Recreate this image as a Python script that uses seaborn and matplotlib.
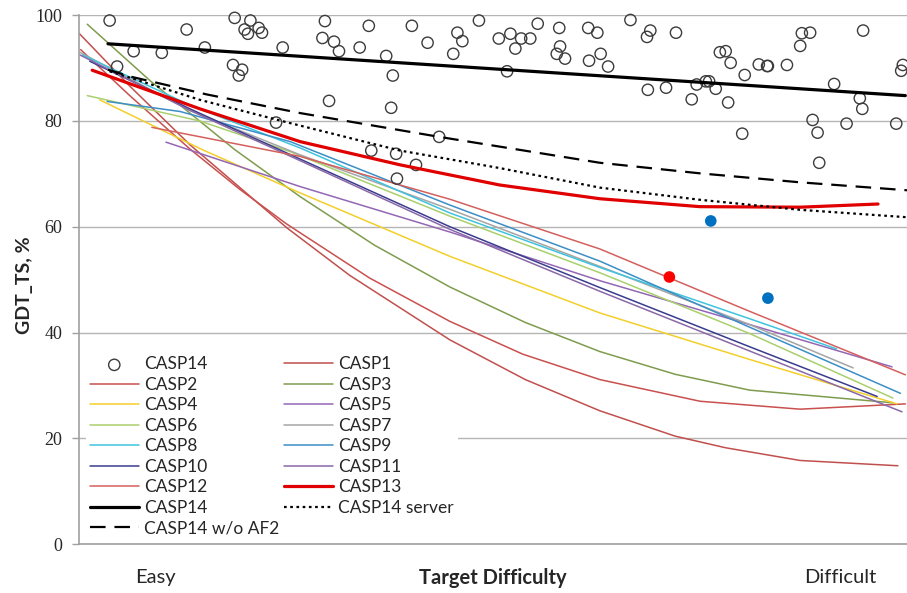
import matplotlib
matplotlib.use("Agg")
import matplotlib.pyplot as plt
import seaborn as sns
import numpy as np

# CASP14 domains: difficulty position (0 = easy, 100 = difficult) and GDT_TS
casp14_x = [3.7, 4.6, 6.6, 10.0, 13.0, 15.2, 18.8, 20.7, 20.0, 20.4, 21.7, 22.1, 24.6, 18.6, 19.7,
            19.3, 23.8, 29.7, 35.0, 40.2, 48.3, 29.4, 30.8, 31.4, 33.9, 37.1, 42.1, 45.7, 46.3, 45.2,
            50.7, 37.9, 30.2, 37.7, 43.5, 35.3, 38.3, 40.7, 38.4, 52.1, 53.4, 54.5, 52.7, 55.4, 58.0,
            58.1, 57.7, 58.7, 61.5, 62.6, 63.0, 61.6, 63.9, 51.7, 66.6, 69.0, 68.6, 72.1, 68.7, 70.9,
            74.0, 74.6, 75.7, 76.1, 76.9, 78.4, 77.4, 78.1, 78.7, 80.4, 80.1, 82.1, 83.1, 83.2, 85.5,
            87.1, 87.3, 88.3, 88.6, 89.2, 89.4, 91.2, 92.7, 94.3, 94.6, 94.7, 98.7, 99.3, 99.5]
casp14_y = [99.0, 90.3, 93.2, 92.9, 97.3, 93.9, 99.5, 99.0, 97.3, 96.5, 97.6, 96.7, 93.9, 90.6, 89.7,
            88.6, 79.7, 98.9, 98.0, 98.0, 99.0, 95.7, 95.0, 93.2, 93.9, 92.3, 94.8, 96.7, 95.1, 92.7,
            95.6, 88.6, 83.8, 82.5, 77.0, 74.4, 73.8, 71.7, 69.1, 96.5, 95.6, 95.6, 93.7, 98.4, 97.6,
            94.1, 92.7, 91.8, 97.6, 96.7, 92.7, 91.4, 90.3, 89.4, 99.1, 97.1, 95.9, 96.7, 85.9, 86.3,
            84.1, 86.9, 87.5, 87.5, 86.1, 83.5, 93.0, 93.2, 91.0, 88.7, 77.6, 90.7, 90.4, 90.4, 90.6,
            94.2, 96.6, 96.7, 80.2, 77.8, 72.1, 87.0, 79.5, 84.3, 82.3, 97.1, 79.5, 89.5, 90.6]

# highlighted targets
red_x, red_y = [71.3], [50.5]
blue_x, blue_y = [76.3, 83.2], [61.1, 46.5]

# trend curves
casp1_x = [0.0, 6.2, 13.4, 25.1, 32.7, 44.8, 53.9, 62.9, 72.0, 78.1, 87.1, 98.9]
casp1_y = [96.6, 86.5, 75.5, 59.8, 50.8, 38.6, 31.1, 25.2, 20.4, 18.2, 15.8, 14.8]
casp2_x = [0.2, 6.2, 13.4, 19.4, 25.1, 35.1, 44.8, 53.6, 62.9, 75.0, 87.1, 99.8]
casp2_y = [93.5, 84.7, 74.7, 67.1, 60.5, 50.3, 42.1, 35.9, 31.1, 27.0, 25.5, 26.5]
casp3_x = [1.0, 8.6, 18.8, 26.7, 35.7, 44.8, 53.9, 62.9, 72.0, 81.0, 98.3]
casp3_y = [98.3, 87.6, 74.6, 65.7, 56.5, 48.6, 41.9, 36.4, 32.1, 29.1, 26.7]
casp4_x = [2.5, 15.0, 26.7, 44.8, 62.9, 81.0, 98.8]
casp4_y = [84.0, 74.5, 66.4, 54.4, 43.7, 34.9, 26.5]
casp5_x = [10.5, 26.7, 44.8, 62.9, 81.0, 98.2]
casp5_y = [76.0, 67.6, 59.0, 49.8, 41.5, 33.5]
casp6_x = [1.0, 14.6, 25.5, 44.8, 62.9, 81.0, 98.3]
casp6_y = [84.8, 80.0, 74.2, 62.0, 51.3, 39.8, 27.6]
casp7_x = [0.1, 13.4, 26.7, 44.8, 62.9, 81.0, 93.5]
casp7_y = [93.0, 82.0, 73.6, 63.3, 52.5, 41.5, 33.3]
casp8_x = [0.4, 13.4, 26.7, 44.8, 62.9, 81.0, 91.5]
casp8_y = [92.5, 83.0, 74.9, 62.6, 52.3, 42.6, 36.9]
casp9_x = [3.4, 12.2, 25.5, 44.8, 62.9, 81.0, 99.2]
casp9_y = [83.7, 81.8, 76.1, 64.1, 53.5, 41.0, 28.5]
casp10_x = [1.3, 13.4, 26.7, 44.8, 62.9, 81.0, 96.4]
casp10_y = [91.3, 82.3, 72.8, 60.0, 48.5, 37.3, 27.9]
casp11_x = [0.1, 13.4, 26.7, 44.8, 62.9, 81.0, 99.4]
casp11_y = [92.5, 82.0, 72.5, 59.5, 47.8, 36.5, 25.0]
casp12_x = [8.8, 26.7, 44.8, 62.9, 81.0, 99.8]
casp12_y = [78.8, 73.3, 65.2, 55.8, 44.0, 32.0]
casp13_x = [1.6, 14.6, 26.7, 38.8, 50.8, 62.9, 75.0, 87.1, 96.5]
casp13_y = [89.6, 82.3, 76.1, 71.7, 67.9, 65.3, 63.8, 63.7, 64.3]
casp14_fit_x = [3.5, 99.8]
casp14_fit_y = [94.6, 84.8]
noaf2_x = [3.5, 6.2, 15.5, 26.7, 43.5, 62.9, 75.0, 87.1, 100.0]
noaf2_y = [89.7, 88.4, 85.0, 81.5, 77.0, 72.1, 70.1, 68.4, 66.9]
server_x = [3.7, 14.6, 25.5, 38.8, 50.8, 62.9, 75.0, 87.1, 100.0]
server_y = [89.4, 84.0, 79.6, 74.4, 71.1, 67.4, 65.1, 63.2, 61.8]

thin = [("CASP1", casp1_x, casp1_y, "#c0504d"),
        ("CASP2", casp2_x, casp2_y, "#c9504f"),
        ("CASP3", casp3_x, casp3_y, "#7f9c4e"),
        ("CASP4", casp4_x, casp4_y, "#f2cf2a"),
        ("CASP5", casp5_x, casp5_y, "#9467b5"),
        ("CASP6", casp6_x, casp6_y, "#a9d06c"),
        ("CASP7", casp7_x, casp7_y, "#a5a5a5"),
        ("CASP8", casp8_x, casp8_y, "#3fc3de"),
        ("CASP9", casp9_x, casp9_y, "#3b8ec6"),
        ("CASP10", casp10_x, casp10_y, "#3a3c8e"),
        ("CASP11", casp11_x, casp11_y, "#8a68a8"),
        ("CASP12", casp12_x, casp12_y, "#d4605e")]

sns.set_style("white")
plt.rcParams['font.family'] = ['Lato', 'DejaVu Sans']

fig = plt.figure(figsize=(9.07, 5.93), dpi=100)
ax = fig.add_axes([0.0871, 0.0826, 0.9129, 0.8917])

handles = {}
sns.scatterplot(x=casp14_x, y=casp14_y, ax=ax, s=66, facecolor="none", edgecolor="#3c3c3c",
                linewidth=1.0, clip_on=False, zorder=3)
handles["CASP14 pts"] = ax.collections[-1]

for name, xs, ys, col in thin:
    sns.lineplot(x=xs, y=ys, ax=ax, color=col, linewidth=1.1, zorder=2)
    handles[name] = ax.lines[-1]

sns.lineplot(x=casp13_x, y=casp13_y, ax=ax, color="#e00000", linewidth=2.3, zorder=4)
handles["CASP13"] = ax.lines[-1]
sns.lineplot(x=casp14_fit_x, y=casp14_fit_y, ax=ax, color="black", linewidth=2.3, zorder=4)
handles["CASP14"] = ax.lines[-1]
sns.lineplot(x=server_x, y=server_y, ax=ax, color="black", linewidth=1.6, zorder=4)
ax.lines[-1].set_dashes((1.2, 1.6))
handles["CASP14 server"] = ax.lines[-1]
sns.lineplot(x=noaf2_x, y=noaf2_y, ax=ax, color="black", linewidth=1.6, zorder=4)
ax.lines[-1].set_dashes((7, 4))
handles["CASP14 w/o AF2"] = ax.lines[-1]

sns.scatterplot(x=red_x, y=red_y, ax=ax, s=70, color="#ff0000", edgecolor="none", zorder=5)
sns.scatterplot(x=blue_x, y=blue_y, ax=ax, s=70, color="#0070c0", edgecolor="none", zorder=5)

ax.set_xlim(0, 100)
ax.set_ylim(0, 100)
ax.set_yticks([0, 20, 40, 60, 80, 100])
ax.set_yticklabels(["0", "20", "40", "60", "80", "100"], fontfamily="Liberation Serif", fontsize=13)
ax.tick_params(axis="y", length=5, width=1, color="#a0a0a0", pad=7, direction="out", left=True)
ax.set_xticks([])
ax.yaxis.grid(True, color="#b5b5b5", linewidth=1)
ax.set_axisbelow(True)
for side in ["top", "right"]:
    ax.spines[side].set_visible(False)
for side in ["left", "bottom"]:
    ax.spines[side].set_color("#a0a0a0")
    ax.spines[side].set_linewidth(1.2)

ax.set_ylabel("GDT_TS, %", fontsize=14, fontweight="bold")
ax.yaxis.set_label_coords(-0.056, 0.49)

tr = ax.get_xaxis_transform()
ax.text(9.2, -0.064, "Easy", transform=tr, ha="center", va="center", fontsize=14.5)
ax.text(50.0, -0.064, "Target Difficulty", transform=tr, ha="center", va="center",
        fontsize=14.5, fontweight="bold")
ax.text(91.9, -0.064, "Difficult", transform=tr, ha="center", va="center", fontsize=14.5)

order = ["CASP14 pts", "CASP2", "CASP4", "CASP6", "CASP8", "CASP10", "CASP12", "CASP14",
         "CASP14 w/o AF2", "CASP1", "CASP3", "CASP5", "CASP7", "CASP9", "CASP11", "CASP13",
         "CASP14 server"]
labels = ["CASP14" if k == "CASP14 pts" else k for k in order]
leg = ax.legend([handles[k] for k in order], labels, ncol=2, loc="upper left",
                bbox_to_anchor=(0.008, 0.363), borderaxespad=0, frameon=True, fontsize=12.5,
                handlelength=2.8, handletextpad=0.3, columnspacing=0.3, labelspacing=0.26,
                borderpad=0.25)
leg.get_frame().set_facecolor("white")
leg.get_frame().set_edgecolor("none")
leg.get_frame().set_alpha(1)

fig.savefig("out.png", dpi=100)
